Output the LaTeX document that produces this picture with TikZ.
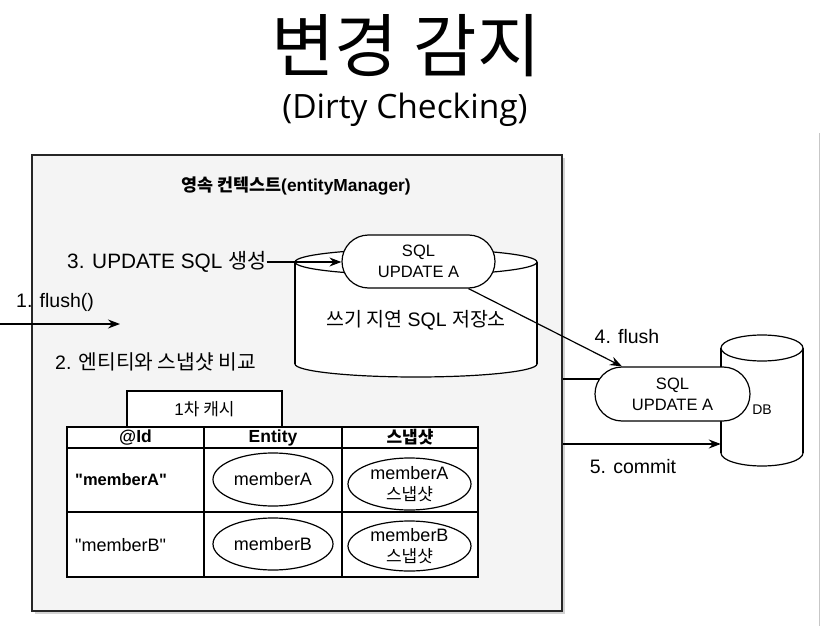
\documentclass[tikz,border=0pt]{standalone}
\usepackage{fontspec}
\setmainfont{Liberation Sans}[Ligatures=TeXOff]
\newfontfamily\kr{Noto Sans CJK KR}
\newfontfamily\ttlfont{Open Sans}
\usetikzlibrary{shapes.geometric,shapes.misc,arrows.meta,shadows}
\definecolor{boxfill}{HTML}{F4F4F4}
\definecolor{boxline}{HTML}{262626}
\begin{document}
\begin{tikzpicture}[x=1pt,y=-1pt,
  lbl/.style={inner sep=0pt, font=\fontsize{19.5}{23}\selectfont},
  arr/.style={-{Stealth[length=12pt,width=9pt,inset=4pt]}, line width=1.2pt},
  ctxbox/.style={draw=boxline, line width=1.6pt, fill=boxfill, inner sep=0pt,
    drop shadow={shadow xshift=2.5pt, shadow yshift=-2.5pt, opacity=0.35}},
  pill/.style={rounded rectangle, draw, line width=1.2pt, fill=white, inner sep=0pt,
    align=center, font=\fontsize{16.5}{21}\selectfont},
  cell/.style={draw, line width=1.2pt, fill=white, inner sep=0pt},
  ell/.style={ellipse, draw, line width=1.2pt, inner sep=0pt, align=center,
    font=\fontsize{18}{21}\selectfont},
  cyl/.style={line width=1.2pt}
]
\useasboundingbox (0,0) rectangle (825,626);
% titles
\node[inner sep=0pt, font=\kr\fontsize{69}{76}\selectfont] (title) at (406,46) {변경 감지};
\node[inner sep=0pt, font=\ttlfont\fontsize{33.5}{40}\selectfont] (subtitle) at (405,110) {(Dirty Checking)};
% slide edge
\draw[black!22, line width=1pt] (819,133) -- (819,626);
% persistence context
\node[ctxbox, minimum width=530pt, minimum height=456pt] (ctx) at (297,383) {};
\node[inner sep=0pt, font=\bfseries\fontsize{17.4}{21}\selectfont] (ctxtitle) at (296,186) {{\kr\bfseries 영속 컨텍스트}(entityManager)};
% write-behind store cylinder
\draw[cyl, fill=white] (416,364) ellipse [x radius=121pt, y radius=13pt];
\fill[white] (295,262) rectangle (537,364);
\draw[cyl] (295,262) -- (295,364);
\draw[cyl] (537,262) -- (537,364);
\draw[cyl, fill=white] (416,262) ellipse [x radius=121pt, y radius=13pt];
\node[inner sep=0pt, minimum width=242pt, minimum height=102pt] (store) at (416,313) {};
\node[inner sep=0pt, font=\fontsize{19.5}{23}\selectfont] (storelbl) at (416,320) {{\kr 쓰기 지연} SQL {\kr 저장소}};
\node[pill, minimum width=153pt, minimum height=53pt] (sql1) at (418.5,261.5) {SQL\\UPDATE A};
% labels inside context
\node[lbl, anchor=west, font=\fontsize{20.8}{24}\selectfont] (l3) at (67,262) {3. UPDATE SQL {\kr 생성}};
\draw[arr] (l3.east) -- (l3.east -| sql1.west);
\node[lbl, anchor=west] (l1) at (16,302) {1. flush()};
\coordinate (f0) at (0,324);
\coordinate (f1) at (120,324);
\draw[arr] (f0) -- (f1);
\node[lbl, anchor=west] (l2) at (55,362) {2. {\kr\fontsize{20.3}{24}\selectfont 엔티티와 스냅샷 비교}};
% first level cache
\node[cell, minimum width=155pt, minimum height=36pt, font=\fontsize{17}{20}\selectfont] (tab) at (204.5,409) {1{\kr 차 캐시}};
\node[cell, minimum width=137pt, minimum height=21pt, font=\bfseries\fontsize{17.5}{20}\selectfont] (h1) at (135.5,437.5) {@Id};
\node[cell, minimum width=138pt, minimum height=21pt, font=\bfseries\fontsize{17.5}{20}\selectfont] (h2) at (273,437.5) {Entity};
\node[cell, minimum width=136pt, minimum height=21pt, font=\kr\bfseries\fontsize{17}{20}\selectfont] (h3) at (410,437.5) {스냅샷};
\node[cell, minimum width=137pt, minimum height=64pt] (a1) at (135.5,480) {};
\node[cell, minimum width=138pt, minimum height=64pt] (a2) at (273,480) {};
\node[cell, minimum width=136pt, minimum height=64pt] (a3) at (410,480) {};
\node[cell, minimum width=137pt, minimum height=65pt] (b1) at (135.5,544.5) {};
\node[cell, minimum width=138pt, minimum height=65pt] (b2) at (273,544.5) {};
\node[cell, minimum width=136pt, minimum height=65pt] (b3) at (410,544.5) {};
\node[inner sep=0pt, anchor=west, font=\bfseries\fontsize{16.5}{20}\selectfont] (ida) at (75,480) {"memberA"};
\node[inner sep=0pt, anchor=west, font=\fontsize{18}{20}\selectfont] (idb) at (75,545) {"memberB"};
\node[ell, minimum width=120pt, minimum height=53pt] (ea) at (273,479.5) {memberA};
\node[ell, minimum width=123pt, minimum height=52pt] (sa) at (409.5,484) {memberA\\{\kr\fontsize{17}{21}\selectfont 스냅샷}};
\node[ell, minimum width=120pt, minimum height=52pt] (eb) at (273,544) {memberB};
\node[ell, minimum width=123pt, minimum height=50pt] (sb) at (409.5,546) {memberB\\{\kr\fontsize{17}{21}\selectfont 스냅샷}};
% DB cylinder
\draw[cyl, fill=white] (762,453) ellipse [x radius=41pt, y radius=13pt];
\fill[white] (721,348) rectangle (803,453);
\draw[cyl] (721,348) -- (721,453);
\draw[cyl] (803,348) -- (803,453);
\draw[cyl, fill=white] (762,348) ellipse [x radius=41pt, y radius=13pt];
\node[inner sep=0pt, minimum width=82pt, minimum height=105pt] (db) at (762,400.5) {};
\node[inner sep=0pt, font=\fontsize{14}{17}\selectfont] (dblbl) at (762,410) {DB};
% flush line and SQL in DB
\draw[line width=1.2pt] ([yshift=4pt]ctx.east) -- ([yshift=4pt]ctx.east -| 672.5,0);
\node[pill, minimum width=155pt, minimum height=54pt] (sql2) at (672.5,394) {SQL\\UPDATE A};
\draw[arr] (sql1.south east) -- (sql2.north west);
\node[lbl] (l4) at (627,337) {4. flush};
\draw[arr] ([yshift=-61pt]ctx.east) -- ([yshift=-61pt]ctx.east -| db.west);
\node[lbl] (l5) at (633,467) {5. commit};
\end{tikzpicture}
\end{document}
